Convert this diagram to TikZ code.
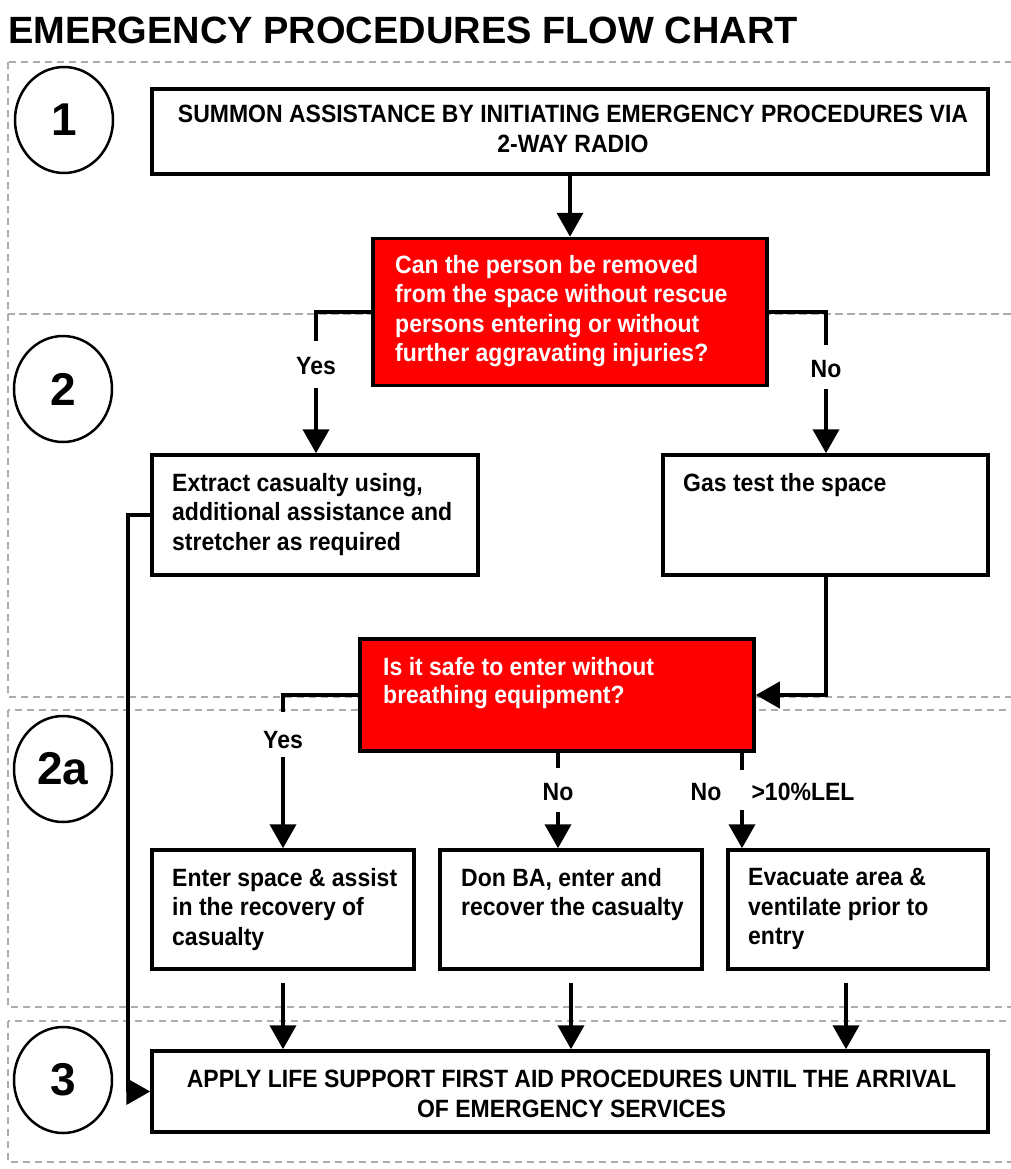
\documentclass[tikz,border=0pt]{standalone}
\usepackage{fontspec}
\setmainfont{Liberation Sans}[FakeStretch=0.92]
\newfontfamily\titlefont{Liberation Sans}
\usetikzlibrary{arrows.meta,shapes.geometric}
\definecolor{alarmred}{RGB}{255,0,0}
\newcommand{\boxfont}{\fontsize{25}{29.5}\selectfont\bfseries}
\tikzset{
  zone/.style={draw=gray!65, line width=1.5pt, dash pattern=on 7pt off 5pt},
  stage/.style={draw, ellipse, line width=2.5pt, minimum width=98pt, minimum height=106pt, inner sep=0pt, font=\titlefont\fontsize{46}{46}\selectfont\bfseries},
  box/.style={draw, line width=3.5pt, inner sep=0pt},
  ask/.style={box, fill=alarmred},
  txt/.style={inner sep=0pt, align=left, font=\boxfont},
  lbl/.style={inner sep=0pt, font=\boxfont},
  wire/.style={line width=4pt},
  arr/.style={line width=4pt, -{Triangle[width=26pt,length=24pt]}}
}
\begin{document}
\begin{tikzpicture}[x=1pt,y=-1pt]
\useasboundingbox (0,0) rectangle (1011,1169);
\clip (0,0) rectangle (1011,1169);
% title
\node[anchor=base west, inner sep=0pt, font=\titlefont\fontsize{38}{38}\selectfont\bfseries] (title) at (8,44) {EMERGENCY PROCEDURES FLOW CHART};
% stages
\draw[zone] (8,62) rectangle (1020,314);
\draw[zone] (8,314) rectangle (1020,697);
\draw[zone] (8,710) rectangle (1020,1007);
\draw[zone] (8,1021) rectangle (1020,1162);
\node[stage] (s1) at (64,120) {1};
\node[stage] (s2) at (63,389) {2};
\node[stage] (s2a) at (63,769) {2a};
\node[stage] (s3) at (63,1080) {3};
% boxes
\node[box, minimum width=836pt, minimum height=85pt] (summon) at (570,131.5) {};
\node[ask, minimum width=394pt, minimum height=147pt] (q1) at (570,312) {};
\node[box, minimum width=326pt, minimum height=120pt] (extract) at (315,515) {};
\node[box, minimum width=325pt, minimum height=120pt] (gas) at (825.5,515) {};
\node[ask, minimum width=394pt, minimum height=112pt] (q2) at (557,695) {};
\node[box, minimum width=262pt, minimum height=119pt] (enter) at (283,909.5) {};
\node[box, minimum width=262pt, minimum height=119pt] (donba) at (571,909.5) {};
\node[box, minimum width=260pt, minimum height=119pt] (evac) at (858,909.5) {};
\node[box, minimum width=836pt, minimum height=81pt] (apply) at (570,1091.5) {};
% texts
\node[txt, align=center, anchor=north] (summontxt) at (573,105) {SUMMON ASSISTANCE BY INITIATING EMERGENCY PROCEDURES VIA\\2-WAY RADIO};
\node[txt, white, anchor=north west] (q1txt) at (395,255) {Can the person be removed\\from the space without rescue\\persons entering or without\\further aggravating injuries?};
\node[txt, anchor=north west] (extracttxt) at (172,473) {Extract casualty using,\\additional assistance and\\stretcher as required};
\node[txt, anchor=north west] (gastxt) at (683,473) {Gas test the space};
\node[txt, white, anchor=north west, font=\fontsize{25}{28}\selectfont\bfseries] (q2txt) at (383,657) {Is it safe to enter without\\breathing equipment?};
\node[txt, anchor=north west] (entertxt) at (172,868) {Enter space \& assist\\in the recovery of\\casualty};
\node[txt, anchor=north west] (donbatxt) at (461,868) {Don BA, enter and\\recover the casualty};
\node[txt, anchor=north west] (evactxt) at (748,868) {Evacuate area \&\\ventilate prior to\\entry};
\node[txt, align=center, anchor=north] (applytxt) at (571.5,1070) {APPLY LIFE SUPPORT FIRST AID PROCEDURES UNTIL THE ARRIVAL\\OF EMERGENCY SERVICES};
% labels
\node[lbl, anchor=base] (yes1) at (316,374) {Yes};
\node[lbl, anchor=base] (no1) at (826,377) {No};
\node[lbl, anchor=base] (yes2) at (283,748) {Yes};
\node[lbl, anchor=base] (no2) at (558,800) {No};
\node[lbl, anchor=base] (no3) at (706,800) {No};
\node[lbl, anchor=base] (lel) at (803,800) {>10\%LEL};
\coordinate (lelgap) at (742,790);
% connectors
\draw[arr] (summon.south) -- (q1.north);
\draw[wire, shorten >=16pt] (q1.west) -| (yes1.north);
\draw[arr, shorten <=14pt] (yes1.south) -- (yes1.south |- extract.north);
\draw[wire, shorten >=15pt] (q1.east) -| (no1.north);
\draw[arr, shorten <=12pt] (no1.south) -- (no1.south |- gas.north);
\draw[arr] (gas.south) |- (q2.east);
\draw[wire, shorten >=19pt] (q2.west) -| (yes2.north);
\draw[arr, shorten <=9pt] (yes2.south) -- (yes2.south |- enter.north);
\draw[wire, shorten >=15pt] (no2.north |- q2.south) -- (no2.north);
\draw[arr, shorten <=12pt] (no2.south) -- (no2.south |- donba.north);
\draw[wire, shorten >=12pt] (lelgap |- q2.south) -- (lelgap |- lel.north);
\draw[arr, shorten <=10pt] (lelgap |- lel.south) -- (lelgap |- evac.north);
\draw[arr, shorten <=12pt] (enter.south) -- (enter.south |- apply.north);
\draw[arr, shorten <=12pt] (donba.south) -- (donba.south |- apply.north);
\draw[arr, shorten <=12pt] ([xshift=-12pt]evac.south) -- ([xshift=-12pt]evac.south |- apply.north);
\draw[arr] (extract.west) -- ++(-22,0) |- (apply.west);
\end{tikzpicture}
\end{document}
